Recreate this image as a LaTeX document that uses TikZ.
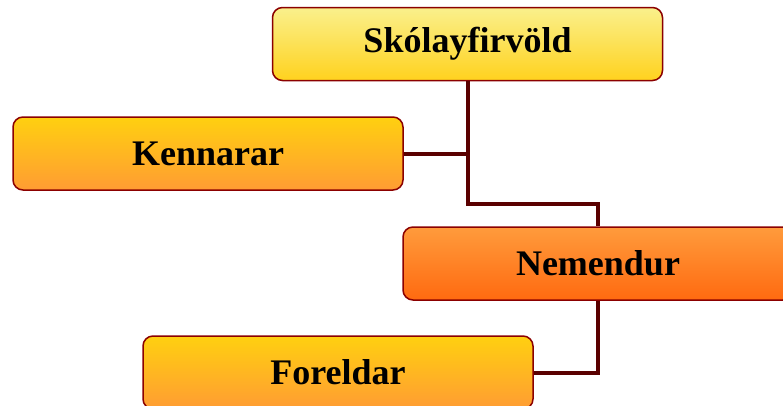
\documentclass[tikz,border=0pt]{standalone}
\usepackage{fontspec}
\setmainfont{Liberation Serif}
\definecolor{edge}{HTML}{8B0000}
\definecolor{conn}{HTML}{5A0000}
\definecolor{yTop}{HTML}{FAF08C}
\definecolor{yBot}{HTML}{FFD21E}
\definecolor{oTop}{HTML}{FFD010}
\definecolor{oBot}{HTML}{FF9C33}
\definecolor{rTop}{HTML}{FF9B3C}
\definecolor{rBot}{HTML}{FF6A10}
\tikzset{
  box/.style={rectangle, rounded corners=10pt, draw=edge, line width=1.5pt,
    minimum width=390pt, minimum height=73pt, inner sep=0pt,
    font=\fontsize{36}{40}\selectfont\bfseries},
  ybox/.style={box, top color=yTop, bottom color=yBot},
  obox/.style={box, top color=oTop, bottom color=oBot},
  rbox/.style={box, top color=rTop, bottom color=rBot},
  link/.style={draw=conn, line width=4pt}
}
\begin{document}
\begin{tikzpicture}[x=1pt,y=-1pt]
\useasboundingbox (0,0) rectangle (783,405);
\clip (0,0) rectangle (783,405);
\node[ybox] (sk) at (467.5,44) {Skólayfirvöld};
\node[obox] (ken) at (208,153.5) {Kennarar};
\node[rbox] (nem) at (598,263.5) {Nemendur};
\node[obox] (for) at (338,372.5) {Foreldar};
\coordinate (j1) at (467.5,153.5);
\coordinate (j2) at (467.5,204);
\draw[link] (sk.south) -- (j2) -| (nem.north);
\draw[link] (ken.east) -- (j1);
\draw[link] (nem.south) |- (for.east);
\end{tikzpicture}
\end{document}
